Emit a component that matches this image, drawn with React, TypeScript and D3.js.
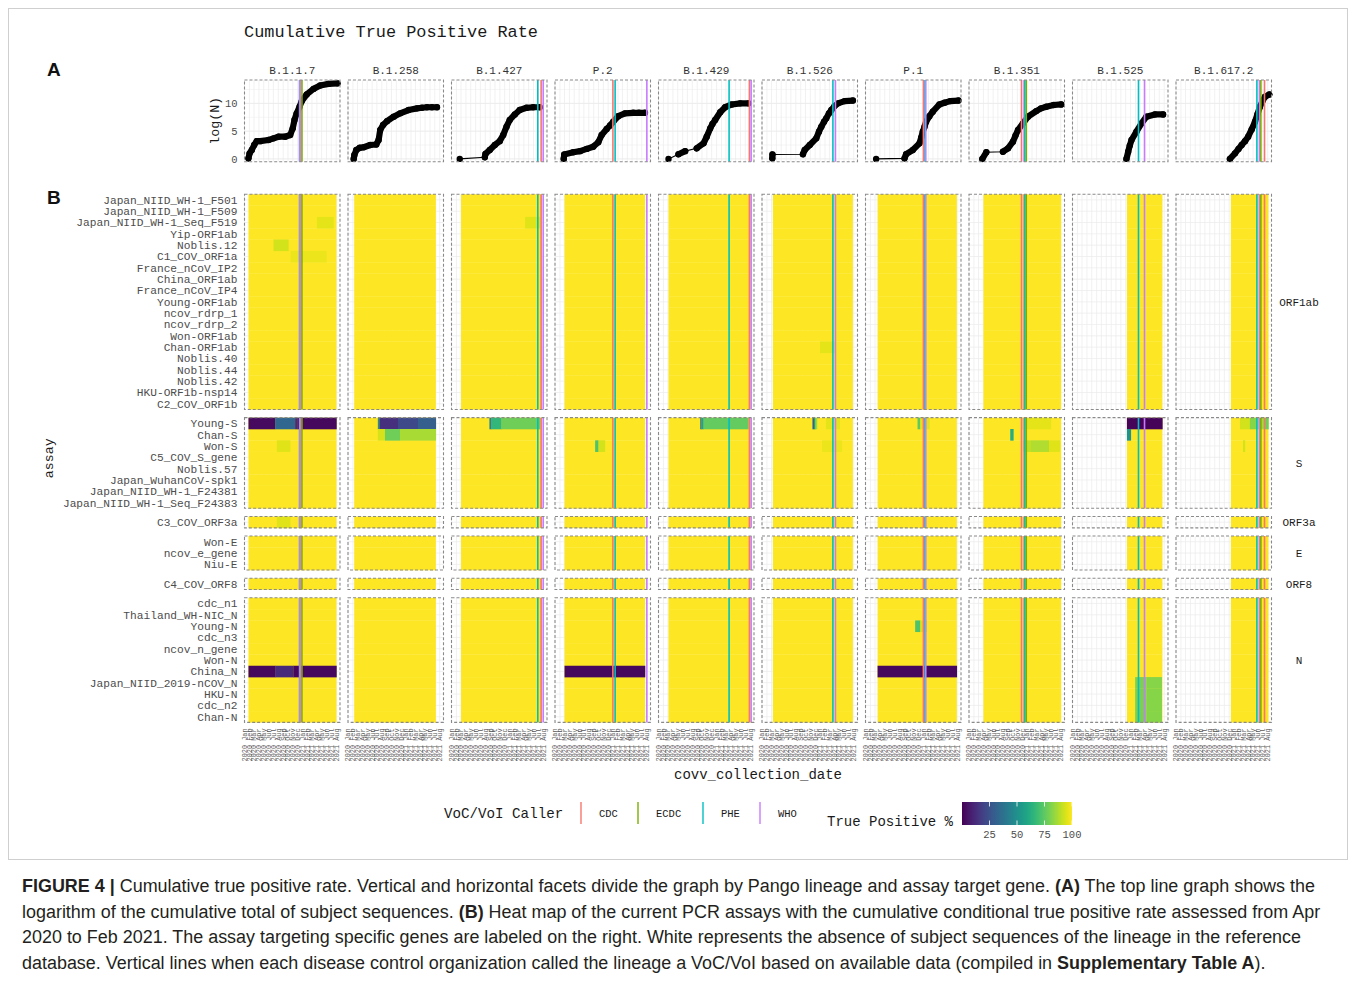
import React from "react";
import * as d3 from "d3";

// ---------------- DATA ----------------
const lineages = ["B.1.1.7", "B.1.258", "B.1.427", "P.2", "B.1.429", "B.1.526", "P.1", "B.1.351", "B.1.525", "B.1.617.2"];

const genes = ["ORF1ab", "S", "ORF3a", "E", "ORF8", "N"];
const assaysORF1ab = ["Japan_NIID_WH-1_F501", "Japan_NIID_WH-1_F509", "Japan_NIID_WH-1_Seq_F519", "Yip-ORF1ab", "Noblis.12", "C1_COV_ORF1a", "France_nCoV_IP2", "China_ORF1ab", "France_nCoV_IP4", "Young-ORF1ab", "ncov_rdrp_1", "ncov_rdrp_2", "Won-ORF1ab", "Chan-ORF1ab", "Noblis.40", "Noblis.44", "Noblis.42", "HKU-ORF1b-nsp14", "C2_COV_ORF1b"];
const assaysS = ["Young-S", "Chan-S", "Won-S", "C5_COV_S_gene", "Noblis.57", "Japan_WuhanCoV-spk1", "Japan_NIID_WH-1_F24381", "Japan_NIID_WH-1_Seq_F24383"];
const assaysORF3a = ["C3_COV_ORF3a"];
const assaysE = ["Won-E", "ncov_e_gene", "Niu-E"];
const assaysORF8 = ["C4_COV_ORF8"];
const assaysN = ["cdc_n1", "Thailand_WH-NIC_N", "Young-N", "cdc_n3", "ncov_n_gene", "Won-N", "China_N", "Japan_NIID_2019-nCOV_N", "HKU-N", "cdc_n2", "Chan-N"];

const xDomain = ["2020-01-01", "2021-08-25"];
const yTopTicks = [0, 5, 10];
const legendTicks = [25, 50, 75, 100];

const callerNames = ["CDC", "ECDC", "PHE", "WHO"];
const callerColors = ["#F8766D", "#7CAE00", "#00BFC4", "#C77CFF"];

// lineage, caller, date
const callerDates: [string, string, string][] = [
  ["B.1.1.7", "PHE", "2020-12-13"], ["B.1.1.7", "CDC", "2020-12-16"], ["B.1.1.7", "WHO", "2020-12-16"], ["B.1.1.7", "ECDC", "2020-12-28"],
  ["B.1.427", "PHE", "2021-06-28"], ["B.1.427", "CDC", "2021-07-19"], ["B.1.427", "WHO", "2021-08-01"],
  ["P.2", "CDC", "2020-12-31"], ["P.2", "PHE", "2021-01-14"], ["P.2", "WHO", "2021-08-02"],
  ["B.1.429", "PHE", "2021-03-21"], ["B.1.429", "CDC", "2021-07-27"], ["B.1.429", "WHO", "2021-08-07"],
  ["B.1.526", "PHE", "2021-03-23"], ["B.1.526", "WHO", "2021-04-08"],
  ["P.1", "CDC", "2020-12-31"], ["P.1", "PHE", "2021-01-10"], ["P.1", "WHO", "2021-01-15"],
  ["B.1.351", "CDC", "2020-11-27"], ["B.1.351", "WHO", "2020-12-13"], ["B.1.351", "PHE", "2020-12-18"], ["B.1.351", "ECDC", "2020-12-27"],
  ["B.1.525", "PHE", "2021-02-20"], ["B.1.525", "WHO", "2021-03-30"],
  ["B.1.617.2", "PHE", "2021-05-25"], ["B.1.617.2", "WHO", "2021-06-10"], ["B.1.617.2", "ECDC", "2021-06-19"], ["B.1.617.2", "CDC", "2021-07-12"],
];

// cumulative log(N) per lineage: [date, logN]
const cumB117: [string, number][] = [["2020-01-26", 0.1], ["2020-02-02", 1.0], ["2020-02-16", 1.6], ["2020-03-02", 2.5], ["2020-03-18", 3.2], ["2020-04-09", 3.2], ["2020-05-31", 3.4], ["2020-07-02", 3.7], ["2020-08-02", 4.0], ["2020-09-13", 4.0], ["2020-10-15", 4.3], ["2020-10-31", 5.5], ["2020-11-11", 7.0], ["2020-11-25", 8.2], ["2020-12-13", 9.4], ["2020-12-27", 10.4], ["2021-01-27", 11.6], ["2021-03-11", 12.6], ["2021-04-22", 13.2], ["2021-06-13", 13.5], ["2021-08-09", 13.6]];
const cumB1258: [string, number][] = [["2020-02-06", 0], ["2020-02-10", 0.7], ["2020-02-22", 1.6], ["2020-03-15", 2.0], ["2020-04-09", 2.1], ["2020-05-20", 2.5], ["2020-06-27", 2.6], ["2020-07-12", 3.4], ["2020-07-22", 5.2], ["2020-08-09", 6.1], ["2020-09-03", 6.8], ["2020-10-15", 7.6], ["2020-11-25", 8.2], ["2021-01-17", 8.8], ["2021-03-11", 9.1], ["2021-04-11", 9.2], ["2021-05-13", 9.3], ["2021-06-13", 9.3], ["2021-07-15", 9.3]];
const cumB1427: [string, number][] = [["2020-02-22", 0], ["2020-07-29", 0.3], ["2020-08-02", 0.9], ["2020-08-29", 1.6], ["2020-09-30", 2.5], ["2020-10-31", 3.2], ["2020-11-22", 4.3], ["2020-12-13", 5.8], ["2021-01-02", 7.0], ["2021-02-03", 8.0], ["2021-03-06", 8.8], ["2021-04-18", 9.2], ["2021-05-30", 9.3], ["2021-07-10", 9.3]];
const cumP2: [string, number][] = [["2020-02-25", 0], ["2020-02-28", 0.8], ["2020-04-25", 1.2], ["2020-06-07", 1.4], ["2020-07-19", 1.8], ["2020-08-29", 2.2], ["2020-09-30", 3.0], ["2020-10-21", 4.3], ["2020-11-22", 5.4], ["2020-12-13", 6.0], ["2021-01-02", 6.7], ["2021-02-03", 7.7], ["2021-03-17", 8.2], ["2021-05-08", 8.3], ["2021-06-13", 8.3], ["2021-07-21", 8.3]];
const cumB1429: [string, number][] = [["2020-03-04", 0], ["2020-05-06", 0.85], ["2020-06-17", 1.4], ["2020-08-29", 1.9], ["2020-10-11", 2.8], ["2020-10-31", 4.0], ["2020-11-22", 5.5], ["2020-12-06", 6.3], ["2020-12-23", 7.0], ["2021-01-24", 8.4], ["2021-02-24", 9.3], ["2021-04-07", 9.8], ["2021-05-30", 10.0], ["2021-07-21", 10.0]];
const cumB1526: [string, number][] = [["2020-03-06", 0.1], ["2020-03-07", 0.8], ["2020-09-15", 0.85], ["2020-09-26", 1.6], ["2020-10-28", 2.5], ["2020-12-08", 3.7], ["2020-12-25", 4.9], ["2021-01-09", 5.8], ["2021-01-26", 6.7], ["2021-02-09", 7.3], ["2021-02-26", 8.2], ["2021-03-13", 8.8], ["2021-04-02", 9.5], ["2021-04-24", 10.0], ["2021-06-05", 10.4], ["2021-07-27", 10.5]];
const cumP1: [string, number][] = [["2020-03-08", 0], ["2020-09-03", 0.1], ["2020-09-13", 0.85], ["2020-10-25", 1.6], ["2020-12-06", 2.8], ["2020-12-17", 3.8], ["2020-12-27", 4.9], ["2021-01-07", 5.8], ["2021-01-17", 6.7], ["2021-02-07", 7.7], ["2021-02-28", 8.5], ["2021-04-11", 9.8], ["2021-05-13", 10.1], ["2021-06-18", 10.4], ["2021-08-09", 10.5]];
const cumB1351: [string, number][] = [["2020-03-25", 0], ["2020-04-19", 1.2], ["2020-08-02", 1.3], ["2020-09-03", 1.9], ["2020-10-04", 3.1], ["2020-10-20", 4.2], ["2020-11-05", 5.2], ["2020-12-06", 6.4], ["2021-01-07", 7.6], ["2021-02-28", 8.6], ["2021-03-30", 9.1], ["2021-05-02", 9.4], ["2021-06-18", 9.7], ["2021-08-04", 9.8]];
const cumB1525: [string, number][] = [["2020-12-06", 0], ["2020-12-17", 1.3], ["2020-12-27", 2.4], ["2021-01-07", 3.4], ["2021-02-07", 4.9], ["2021-03-11", 6.4], ["2021-04-11", 7.6], ["2021-06-03", 8.0], ["2021-07-25", 8.0]];
const cumB16172: [string, number][] = [["2020-12-06", 0], ["2021-01-07", 1.0], ["2021-01-29", 1.8], ["2021-02-18", 2.5], ["2021-03-11", 3.2], ["2021-03-31", 4.0], ["2021-04-22", 5.3], ["2021-05-13", 6.7], ["2021-05-28", 8.0], ["2021-06-13", 9.4], ["2021-06-29", 10.4], ["2021-07-15", 11.2], ["2021-08-11", 11.6]];

// date range with subject sequences (true positive 100% unless listed below)
const coverage: [string, string, string][] = [
  ["B.1.1.7", "2020-01-26", "2021-08-03"],
  ["B.1.258", "2020-02-09", "2021-07-08"],
  ["B.1.427", "2020-03-01", "2021-07-22"],
  ["P.2", "2020-03-01", "2021-07-22"],
  ["B.1.429", "2020-03-04", "2021-08-05"],
  ["B.1.526", "2020-03-10", "2021-07-27"],
  ["P.1", "2020-03-17", "2021-07-30"],
  ["B.1.351", "2020-04-01", "2021-08-04"],
  ["B.1.525", "2020-12-09", "2021-07-21"],
  ["B.1.617.2", "2020-12-12", "2021-08-06"],
];

// lineage, assay, from, to, true positive %
const lowRates: [string, string, string, string, number][] = [
  ["B.1.1.7", "Young-S", "2020-01-26", "2020-07-12", 3],
  ["B.1.1.7", "Young-S", "2020-07-12", "2020-11-15", 33],
  ["B.1.1.7", "Young-S", "2020-11-15", "2020-11-30", 12],
  ["B.1.1.7", "Young-S", "2020-11-30", "2021-08-03", 2],
  ["B.1.1.7", "China_N", "2020-01-26", "2020-07-12", 2],
  ["B.1.1.7", "China_N", "2020-07-12", "2020-11-04", 12],
  ["B.1.1.7", "China_N", "2020-11-04", "2021-08-03", 2],
  ["B.1.1.7", "Noblis.12", "2020-07-02", "2020-10-04", 93],
  ["B.1.1.7", "C1_COV_ORF1a", "2020-10-17", "2021-06-01", 97],
  ["B.1.1.7", "Japan_NIID_WH-1_Seq_F519", "2021-04-01", "2021-07-15", 96],
  ["B.1.1.7", "Won-S", "2020-07-23", "2020-10-15", 95],
  ["B.1.1.7", "C3_COV_ORF3a", "2020-07-23", "2020-10-15", 95],
  ["B.1.258", "Young-S", "2020-07-07", "2020-07-17", 50],
  ["B.1.258", "Young-S", "2020-07-17", "2020-11-11", 14],
  ["B.1.258", "Young-S", "2020-11-11", "2021-03-17", 22],
  ["B.1.258", "Young-S", "2021-03-17", "2021-07-08", 30],
  ["B.1.258", "Chan-S", "2020-07-07", "2020-08-21", 94],
  ["B.1.258", "Chan-S", "2020-08-21", "2020-11-24", 78],
  ["B.1.258", "Chan-S", "2020-11-24", "2021-07-08", 87],
  ["B.1.427", "Young-S", "2020-08-27", "2020-09-09", 45],
  ["B.1.427", "Young-S", "2020-09-09", "2020-11-11", 66],
  ["B.1.427", "Young-S", "2020-11-11", "2021-07-13", 78],
  ["B.1.427", "Japan_NIID_WH-1_Seq_F519", "2021-04-09", "2021-07-13", 95],
  ["P.2", "Won-S", "2020-09-10", "2020-10-01", 72],
  ["P.2", "Won-S", "2020-10-01", "2020-11-11", 93],
  ["P.2", "China_N", "2020-03-01", "2021-07-22", 2],
  ["B.1.429", "Young-S", "2020-09-20", "2020-09-28", 38],
  ["B.1.429", "Young-S", "2020-09-28", "2020-10-11", 58],
  ["B.1.429", "Young-S", "2020-10-11", "2021-07-21", 76],
  ["B.1.526", "Young-S", "2020-11-14", "2020-11-24", 30],
  ["B.1.526", "Young-S", "2020-11-24", "2020-12-03", 55],
  ["B.1.526", "Young-S", "2020-12-03", "2020-12-13", 85],
  ["B.1.526", "Young-S", "2021-02-07", "2021-05-06", 96],
  ["B.1.526", "Won-S", "2021-01-13", "2021-05-19", 97],
  ["B.1.526", "Chan-ORF1ab", "2020-12-31", "2021-04-05", 96],
  ["P.1", "Young-S", "2020-11-24", "2020-12-11", 75],
  ["P.1", "Young-S", "2020-12-11", "2021-02-07", 95],
  ["P.1", "Young-N", "2020-11-09", "2020-12-11", 72],
  ["P.1", "Young-N", "2020-12-11", "2021-01-22", 93],
  ["P.1", "China_N", "2020-03-17", "2021-07-30", 2],
  ["B.1.351", "Chan-S", "2020-09-17", "2020-10-07", 62],
  ["B.1.351", "Young-S", "2020-11-30", "2021-06-01", 96],
  ["B.1.351", "Won-S", "2020-12-06", "2021-01-26", 91],
  ["B.1.351", "Won-S", "2021-01-26", "2021-05-19", 88],
  ["B.1.351", "Won-S", "2021-05-19", "2021-07-27", 95],
  ["B.1.525", "Young-S", "2020-12-09", "2021-07-21", 1],
  ["B.1.525", "Chan-S", "2020-12-09", "2021-01-03", 50],
  ["B.1.525", "Japan_NIID_2019-nCOV_N", "2021-01-30", "2021-04-11", 80],
  ["B.1.525", "Japan_NIID_2019-nCOV_N", "2021-04-11", "2021-07-17", 82],
  ["B.1.525", "HKU-N", "2021-01-30", "2021-04-11", 80],
  ["B.1.525", "HKU-N", "2021-04-11", "2021-07-17", 82],
  ["B.1.525", "cdc_n2", "2021-01-30", "2021-04-11", 80],
  ["B.1.525", "cdc_n2", "2021-04-11", "2021-07-17", 82],
  ["B.1.525", "Chan-N", "2021-01-30", "2021-04-11", 80],
  ["B.1.525", "Chan-N", "2021-04-11", "2021-07-17", 82],
  ["B.1.617.2", "Young-S", "2021-02-07", "2021-04-11", 93],
  ["B.1.617.2", "Young-S", "2021-04-11", "2021-05-25", 82],
  ["B.1.617.2", "Young-S", "2021-05-25", "2021-07-15", 86],
  ["B.1.617.2", "Young-S", "2021-07-15", "2021-08-06", 78],
  ["B.1.617.2", "Won-S", "2021-02-26", "2021-03-11", 93],
];

// ---------------- LAYOUT ----------------
const PX0 = 244.5, PSTEP = 103.5, PW = 95.5;
const TOP_Y0 = 80, TOP_Y1 = 161.7;
const HM_Y0 = 194.2, ROW_H = 11.33, FACET_GAP = 8.2;
const MONO = "'Liberation Mono', 'DejaVu Sans Mono', monospace";
const SANS = "'Liberation Sans', Arial, sans-serif";
const GRID = "#ebebeb";
const BORDER = "#8a8a8a";

const cumSeries: Record<string, [string, number][]> = {
  "B.1.1.7": cumB117, "B.1.258": cumB1258, "B.1.427": cumB1427, "P.2": cumP2, "B.1.429": cumB1429,
  "B.1.526": cumB1526, "P.1": cumP1, "B.1.351": cumB1351, "B.1.525": cumB1525, "B.1.617.2": cumB16172,
};
const geneAssays = [assaysORF1ab, assaysS, assaysORF3a, assaysE, assaysORF8, assaysN];

export default function App() {
  const parse = d3.utcParse("%Y-%m-%d");
  const p = (s: string) => parse(s) as Date;
  const x = d3.scaleUtc().domain([p(xDomain[0]), p(xDomain[1])]).range([0, PW]);
  const months = d3.utcMonth.range(x.domain()[0], d3.utcDay.offset(x.domain()[1], 1));
  const fmt = d3.utcFormat("%Y %b");
  const yTop = d3.scaleLinear().domain([-0.5, 14.2]).range([TOP_Y1, TOP_Y0]);
  const color = d3.scaleSequential(d3.interpolateViridis).domain([0, 100]);
  const callerColor = d3.scaleOrdinal<string, string>().domain(callerNames).range(callerColors);
  const legendX = d3.scaleLinear().domain([0, 100]).range([962, 1072]);

  let acc = 0;
  const facets = genes.map((g, gi) => {
    const assays = geneAssays[gi];
    const y0 = HM_Y0 + acc * ROW_H + gi * FACET_GAP;
    acc += assays.length;
    const yb = d3.scaleBand().domain(assays).range([y0, y0 + assays.length * ROW_H]);
    return { gene: g, assays, y0, y1: y0 + assays.length * ROW_H, yb };
  });
  const hmBottom = facets[facets.length - 1].y1;
  const lineGen = d3.line<[number, number]>();

  const captionLines: { t: string; b?: boolean }[][] = [
    [{ t: "FIGURE 4 | ", b: true }, { t: "Cumulative true positive rate. Vertical and horizontal facets divide the graph by Pango lineage and assay target gene. " }, { t: "(A)", b: true }, { t: " The top line graph shows the" }],
    [{ t: "logarithm of the cumulative total of subject sequences. " }, { t: "(B)", b: true }, { t: " Heat map of the current PCR assays with the cumulative conditional true positive rate assessed from Apr" }],
    [{ t: "2020 to Feb 2021. The assay targeting specific genes are labeled on the right. White represents the absence of subject sequences of the lineage in the reference" }],
    [{ t: "database. Vertical lines when each disease control organization called the lineage a VoC/VoI based on available data (compiled in " }, { t: "Supplementary Table A", b: true }, { t: ")." }],
  ];

  return (
    <svg width={1357} height={984} style={{ position: "absolute", left: 0, top: 0, background: "#fff" }}>
      <rect x={8.5} y={8.5} width={1339} height={851} fill="none" stroke="#cfcfcf" strokeWidth={1} />
      <defs>
        <linearGradient id="vir" x1="0" x2="1" y1="0" y2="0">
          {d3.range(0, 1.0001, 0.05).map((t) => (
            <stop key={t} offset={t} stopColor={d3.interpolateViridis(t)} />
          ))}
        </linearGradient>
      </defs>

      <text x={244} y={37} fontFamily={MONO} fontSize={16.9} fill="#1a1a1a">Cumulative True Positive Rate</text>
      <text x={47} y={76} fontFamily={SANS} fontSize={19} fontWeight="bold" fill="#111">A</text>
      <text x={47} y={204} fontFamily={SANS} fontSize={19} fontWeight="bold" fill="#111">B</text>
      <text transform={`translate(219,${(TOP_Y0 + TOP_Y1) / 2}) rotate(-90)`} textAnchor="middle" fontFamily={MONO} fontSize={13.3} fill="#1a1a1a">log(N)</text>
      <text transform={`translate(53,${(HM_Y0 + hmBottom) / 2}) rotate(-90)`} textAnchor="middle" fontFamily={MONO} fontSize={13.3} fill="#1a1a1a">assay</text>
      <text x={PX0 + (PSTEP * 9 + PW) / 2} y={779} textAnchor="middle" fontFamily={MONO} fontSize={14} fill="#1a1a1a">covv_collection_date</text>

      {yTopTicks.map((t) => (
        <text key={t} x={237.5} y={yTop(t)} dy="0.35em" textAnchor="end" fontFamily={MONO} fontSize={10.5} fill="#4d4d4d">{t}</text>
      ))}

      {facets.map((f) => f.assays.map((a) => (
        <text key={f.gene + a} x={237.5} y={(f.yb(a) as number) + ROW_H / 2} dy="0.35em" textAnchor="end" fontFamily={MONO} fontSize={11.2} fill="#4d4d4d">{a}</text>
      )))}

      {facets.map((f) => (
        <text key={"s" + f.gene} x={1299} y={(f.y0 + f.y1) / 2} dy="0.35em" textAnchor="middle" fontFamily={MONO} fontSize={11} fill="#1a1a1a">{f.gene}</text>
      ))}

      {lineages.map((lin, li) => {
        const px = PX0 + li * PSTEP;
        const calls = callerDates.filter((c) => c[0] === lin);
        const pts: [number, number][] = cumSeries[lin].map(([d, v]) => [x(p(d)), yTop(v)]);
        const segs: [number, number][][] = [];
        let cur: [number, number][] = [pts[0]];
        for (let i = 1; i < pts.length; i++) {
          const dist = Math.hypot(pts[i][0] - pts[i - 1][0], pts[i][1] - pts[i - 1][1]);
          if (dist < 10.5) cur.push(pts[i]);
          else { if (cur.length > 1) segs.push(cur); cur = [pts[i]]; }
        }
        if (cur.length > 1) segs.push(cur);
        const cov = coverage.find((c) => c[0] === lin)!;
        const lows = lowRates.filter((r) => r[0] === lin);
        return (
          <g key={lin} transform={`translate(${px},0)`}>
            <text x={PW / 2} y={74} textAnchor="middle" fontFamily={MONO} fontSize={11} fill="#333">{lin}</text>

            <rect x={0} y={TOP_Y0} width={PW} height={TOP_Y1 - TOP_Y0} fill="#fff" />
            {months.map((m, i) => (
              <line key={i} x1={x(m)} x2={x(m)} y1={TOP_Y0} y2={TOP_Y1} stroke={GRID} strokeWidth={0.7} />
            ))}
            {[2.5, 7.5, 12.5].map((t) => (
              <line key={"mn" + t} x1={0} x2={PW} y1={yTop(t)} y2={yTop(t)} stroke={GRID} strokeWidth={0.5} />
            ))}
            {yTopTicks.map((t) => (
              <line key={"mj" + t} x1={0} x2={PW} y1={yTop(t)} y2={yTop(t)} stroke={GRID} strokeWidth={1} />
            ))}
            <path d={lineGen(pts) || ""} fill="none" stroke="#000" strokeWidth={1.1} />
            {segs.map((s, i) => (
              <path key={i} d={lineGen(s) || ""} fill="none" stroke="#000" strokeWidth={6.2} strokeLinejoin="round" strokeLinecap="round" />
            ))}
            {pts.map((q, i) => (
              <circle key={i} cx={q[0]} cy={q[1]} r={3.2} fill="#000" />
            ))}
            {calls.map((c, i) => (
              <line key={i} x1={x(p(c[2]))} x2={x(p(c[2]))} y1={TOP_Y0} y2={TOP_Y1} stroke={callerColor(c[1])} strokeWidth={1.6} />
            ))}
            <rect x={0} y={TOP_Y0} width={PW} height={TOP_Y1 - TOP_Y0} fill="none" stroke={BORDER} strokeWidth={1.1} strokeDasharray="3,2" />

            {facets.map((f) => (
              <g key={f.gene}>
                <rect x={0} y={f.y0} width={PW} height={f.y1 - f.y0} fill="#fff" />
                {months.map((m, i) => (
                  <line key={"v" + i} x1={x(m)} x2={x(m)} y1={f.y0} y2={f.y1} stroke={GRID} strokeWidth={0.7} />
                ))}
                {f.assays.map((a) => (
                  <line key={"h" + a} x1={0} x2={PW} y1={(f.yb(a) as number) + ROW_H / 2} y2={(f.yb(a) as number) + ROW_H / 2} stroke={GRID} strokeWidth={0.7} />
                ))}
                {f.assays.map((a) => (
                  <rect key={"c" + a} x={x(p(cov[1]))} width={x(p(cov[2])) - x(p(cov[1]))} y={f.yb(a) as number} height={ROW_H + 0.3} fill={color(100)} />
                ))}
                {lows.filter((r) => f.assays.includes(r[1])).map((r, i) => (
                  <rect key={"l" + i} x={x(p(r[2]))} width={x(p(r[3])) - x(p(r[2])) + 0.2} y={f.yb(r[1]) as number} height={ROW_H + 0.3} fill={color(r[4])} />
                ))}
                {calls.map((c, i) => (
                  <line key={"k" + i} x1={x(p(c[2]))} x2={x(p(c[2]))} y1={f.y0} y2={f.y1} stroke={callerColor(c[1])} strokeWidth={1.6} />
                ))}
                <rect x={0} y={f.y0} width={PW} height={f.y1 - f.y0} fill="none" stroke={BORDER} strokeWidth={1.1} strokeDasharray="3,2" />
              </g>
            ))}

            {months.map((m, i) => (
              <text key={"t" + i} transform={`translate(${x(m) + 2.4},${hmBottom + 6}) rotate(-90)`} textAnchor="end" fontFamily={MONO} fontSize={6.9} fill="#5a5a5a">{fmt(m)}</text>
            ))}
          </g>
        );
      })}

      <text x={444} y={818} fontFamily={MONO} fontSize={14.2} fill="#1a1a1a">VoC/VoI Caller</text>
      {callerNames.map((c, i) => {
        const kx = [581, 638, 703, 760][i];
        return (
          <g key={c}>
            <line x1={kx} x2={kx} y1={802} y2={824} stroke={callerColor(c)} strokeWidth={1.4} />
            <text x={kx + 18} y={813} dy="0.35em" fontFamily={MONO} fontSize={10.5} fill="#1a1a1a">{c}</text>
          </g>
        );
      })}

      <text x={827} y={826} fontFamily={MONO} fontSize={14} fill="#1a1a1a">True Positive %</text>
      <rect x={legendX(0)} y={802} width={legendX(100) - legendX(0)} height={23} fill="url(#vir)" />
      {legendTicks.map((t) => (
        <g key={t}>
          <line x1={legendX(t)} x2={legendX(t)} y1={802} y2={806.5} stroke="#fff" strokeWidth={0.8} />
          <line x1={legendX(t)} x2={legendX(t)} y1={820.5} y2={825} stroke="#fff" strokeWidth={0.8} />
          <text x={legendX(t)} y={838} textAnchor="middle" fontFamily={MONO} fontSize={10.5} fill="#4d4d4d">{t}</text>
        </g>
      ))}

      {captionLines.map((ln, i) => (
        <text key={i} x={22} y={892 + i * 25.6} fontFamily={SANS} fontSize={17.95} fill="#231f20">
          {ln.map((s, j) => (
            <tspan key={j} fontWeight={s.b ? "bold" : "normal"}>{s.t}</tspan>
          ))}
        </text>
      ))}
    </svg>
  );
}
